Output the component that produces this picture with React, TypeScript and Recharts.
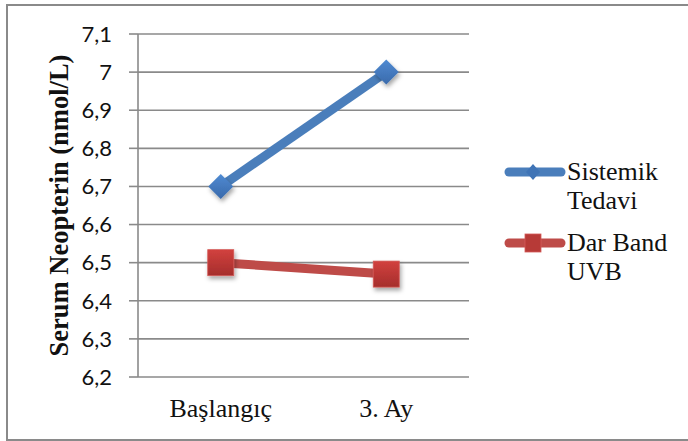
import { CartesianGrid, Line, LineChart, XAxis, YAxis } from "recharts";

const categories = ["Başlangıç", "3. Ay"];
const sistemikTedavi = [6.7, 7.0];
const darBandUvb = [6.5, 6.47];
const yTicks = [6.2, 6.3, 6.4, 6.5, 6.6, 6.7, 6.8, 6.9, 7.0, 7.1];

const series = [
  { key: "sistemik", name: "Sistemik Tedavi", color: "#4a7ebb", shape: "diamond" },
  { key: "dar", name: "Dar Band UVB", color: "#be4b48", shape: "square" },
];

// slots sit between the boundary ticks: 0.5, 1.5, ...
const data = categories.map((c, i) => ({
  pos: i + 0.5,
  name: c,
  sistemik: sistemikTedavi[i],
  dar: darBandUvb[i],
}));

const GRAY = "#8a8a8a";
const SERIF = '"Liberation Serif", "Times New Roman", serif';

const fmt = (v: number) => String(Math.round(v * 10) / 10).replace(".", ",");

function Diamond({ cx, cy, size = 12.5 }: { cx?: number; cy?: number; size?: number }) {
  if (cx == null || cy == null) return null;
  const s = size;
  return (
    <polygon
      points={`${cx},${cy - s} ${cx + s},${cy} ${cx},${cy + s} ${cx - s},${cy}`}
      fill="url(#blueFill)"
      filter="url(#mkShadow)"
    />
  );
}

function Square({ cx, cy, size = 13 }: { cx?: number; cy?: number; size?: number }) {
  if (cx == null || cy == null) return null;
  return (
    <rect
      x={cx - size}
      y={cy - size}
      width={size * 2}
      height={size * 2}
      fill="url(#redFill)"
      stroke="#d45a57"
      strokeWidth={0.8}
      filter="url(#mkShadow)"
    />
  );
}

function LegendBox() {
  return (
    <div
      style={{
        position: "absolute",
        left: 503,
        top: 157,
        fontFamily: SERIF,
        fontSize: 26,
        lineHeight: "29px",
        color: "#111",
      }}
    >
      {series.map((s, i) => (
        <div key={s.key} style={{ display: "flex", alignItems: "flex-start", marginTop: i ? 13 : 0 }}>
          <svg width={64} height={30} style={{ flex: "none" }}>
            <line x1={6} y1={15} x2={58} y2={15} stroke={s.color} strokeWidth={9} strokeLinecap="round" />
            {s.shape === "diamond" ? (
              <polygon points="30,7 37,15 30,23 23,15" fill="#3f74b6" />
            ) : (
              <rect x={22} y={6} width={16} height={18} fill="#b73a37" stroke="#d45a57" strokeWidth={0.8} />
            )}
          </svg>
          <div style={{ width: 112 }}>{s.name}</div>
        </div>
      ))}
    </div>
  );
}

export default function App() {
  return (
    <div style={{ position: "fixed", left: 0, top: 0, width: 688, height: 441, background: "#fff" }}>
      <div
        style={{
          position: "absolute",
          left: 6,
          top: 4,
          width: 700,
          height: 433,
          border: `2px solid ${GRAY}`,
        }}
      />
      <LineChart width={688} height={441} data={data} margin={{ top: 34, right: 219, bottom: 0, left: 0 }}>
        <defs>
          <linearGradient id="blueFill" x1="0" y1="0" x2="0" y2="1">
            <stop offset="0%" stopColor="#4f8ad2" />
            <stop offset="100%" stopColor="#3a6aab" />
          </linearGradient>
          <linearGradient id="redFill" x1="0" y1="0" x2="0" y2="1">
            <stop offset="0%" stopColor="#d2413e" />
            <stop offset="100%" stopColor="#a52e2c" />
          </linearGradient>
          <filter id="mkShadow" x="-50%" y="-50%" width="200%" height="200%">
            <feDropShadow dx="1.5" dy="3" stdDeviation="2" floodColor="#000" floodOpacity="0.35" />
          </filter>
        </defs>
        <CartesianGrid vertical={false} stroke={GRAY} strokeWidth={1.6} />
        <XAxis
          xAxisId="pos"
          dataKey="pos"
          type="number"
          domain={[0, categories.length]}
          ticks={categories.map((_, i) => i).concat(categories.length)}
          interval={0}
          tick={false}
          tickSize={8}
          height={0}
          axisLine={{ stroke: GRAY, strokeWidth: 1.6 }}
          tickLine={{ stroke: GRAY, strokeWidth: 1.6 }}
        />
        <XAxis
          xAxisId="lbl"
          dataKey="pos"
          type="number"
          domain={[0, categories.length]}
          ticks={categories.map((_, i) => i + 0.5)}
          interval={0}
          tickFormatter={(v: number) => categories[Math.floor(v)]}
          axisLine={false}
          tickLine={false}
          tickSize={0}
          tickMargin={22}
          height={64}
          tick={{ fontFamily: SERIF, fontSize: 26, fill: "#111" }}
        />
        <YAxis
          domain={[6.2, 7.1]}
          ticks={yTicks}
          interval={0}
          tickFormatter={fmt}
          width={138}
          tickSize={9}
          tickMargin={17}
          axisLine={{ stroke: GRAY, strokeWidth: 1.6 }}
          tickLine={{ stroke: GRAY, strokeWidth: 1.6 }}
          tick={{ fontFamily: "Lato, sans-serif", fontSize: 22, fill: "#111" }}
          label={{
            value: "Serum Neopterin (nmol/L)",
            angle: -90,
            position: "center",
            dx: -10,
            style: { fontFamily: SERIF, fontSize: 26.5, fontWeight: 700, fill: "#111" },
          }}
        />
        {series.map((s) => (
          <Line
            key={s.key}
            xAxisId="pos"
            dataKey={s.key}
            name={s.name}
            stroke={s.color}
            strokeWidth={9}
            dot={s.shape === "diamond" ? <Diamond /> : <Square />}
            activeDot={false}
            isAnimationActive={false}
          />
        ))}
      </LineChart>
      <LegendBox />
    </div>
  );
}
